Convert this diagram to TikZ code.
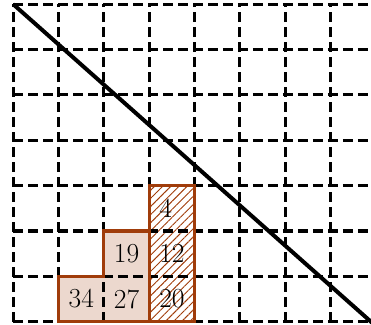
\documentclass[tikz,border=0pt]{standalone}
\usepackage{xcolor}
\usepackage{tikz}
\usetikzlibrary{patterns.meta}
\definecolor{rust}{RGB}{160,60,10}
\tikzset{
  gridline/.style={line width=1.9pt, dash pattern=on 6.3pt off 3.1pt},
  cellfill/.style={fill=rust!20},
  hatched/.style={pattern={Lines[angle=45, distance=3.6pt, line width=0.6pt]}, pattern color=rust},
  border/.style={draw=rust, line width=1.9pt, line join=miter},
  diag/.style={line width=2.5pt},
  num/.style={font=\LARGE, inner sep=0pt}
}
\begin{document}
\begin{tikzpicture}[x=1cm, y=1cm]
    \useasboundingbox (-0.293,-0.066) rectangle (7.89,7.095);
    % shaded staircase and hatched column
    \fill[cellfill] (1,0) -- (3,0) -- (3,2) -- (2,2) -- (2,1) -- (1,1) -- cycle;
    \fill[hatched] (3,0) rectangle (4,3);
    \draw[gridline] (0,0) grid (8,7);
    \draw[border] (1,0) -- (3,0) -- (3,2) -- (2,2) -- (2,1) -- (1,1) -- cycle;
    \draw[border] (3,0) rectangle (4,3);
    \coordinate (start) at (0,7);
    \coordinate (end) at (8,-0.1);
    \draw[diag] (start) -- (end);
    % cell values
    \node[num] (c34) at (1.5,0.5) {34};
    \node[num] (c27) at (2.5,0.5) {27};
    \node[num] (c19) at (2.5,1.5) {19};
    \node[num] (c20) at (3.5,0.5) {20};
    \node[num] (c12) at (3.5,1.5) {12};
    \node[num] (c4) at (3.5,2.5) {4\phantom{0}};
\end{tikzpicture}
\end{document}
